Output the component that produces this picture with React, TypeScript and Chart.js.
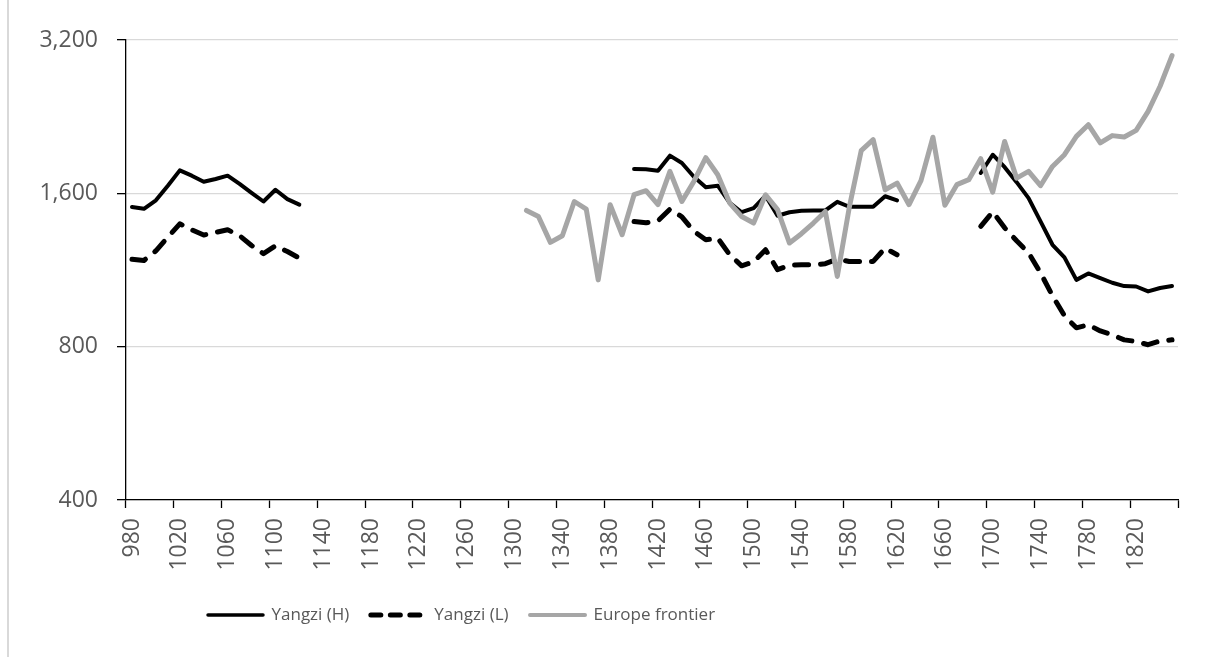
import { useEffect, useRef } from 'react';
import { Chart, registerables } from 'chart.js';

Chart.register(...registerables);

const N = null;

const years = [
  '980', '990', '1000', '1010', '1020', '1030', '1040', '1050', '1060', '1070',
  '1080', '1090', '1100', '1110', '1120', '1130', '1140', '1150', '1160', '1170',
  '1180', '1190', '1200', '1210', '1220', '1230', '1240', '1250', '1260', '1270',
  '1280', '1290', '1300', '1310', '1320', '1330', '1340', '1350', '1360', '1370',
  '1380', '1390', '1400', '1410', '1420', '1430', '1440', '1450', '1460', '1470',
  '1480', '1490', '1500', '1510', '1520', '1530', '1540', '1550', '1560', '1570',
  '1580', '1590', '1600', '1610', '1620', '1630', '1640', '1650', '1660', '1670',
  '1680', '1690', '1700', '1710', '1720', '1730', '1740', '1750', '1760', '1770',
  '1780', '1790', '1800', '1810', '1820', '1830', '1840', '1850',
];

const yangziHigh = [
  1504, 1492, 1550, 1656, 1775, 1733, 1686, 1707, 1733, 1670, 1604, 1542, 1626, 1559, 1520,
  N, N, N, N, N, N, N, N, N, N, N, N, N, N, N, N, N, N, N, N, N, N, N, N, N, N, N,
  1786, 1784, 1772, 1897, 1835, 1725, 1645, 1656, 1533, 1469, 1497, 1583, 1446, 1469, 1479,
  1481, 1481, 1540, 1506, 1506, 1506, 1579, 1550,
  N, N, N, N, N, N,
  1754, 1905, 1801, 1683, 1566, 1409, 1268, 1198, 1082, 1114, 1091, 1068, 1052, 1050, 1027,
  1043, 1052,
];

const yangziLow = [
  1188, 1181, 1234, 1313, 1394, 1357, 1325, 1341, 1357, 1321, 1264, 1218, 1262, 1230, 1194,
  N, N, N, N, N, N, N, N, N, N, N, N, N, N, N, N, N, N, N, N, N, N, N, N, N, N, N,
  1409, 1401, 1413, 1489, 1439, 1348, 1297, 1307, 1212, 1153, 1174, 1240, 1133, 1156, 1158,
  1158, 1164, 1188, 1176, 1176, 1176, 1249, 1212,
  N, N, N, N, N, N,
  1378, 1472, 1369, 1291, 1223, 1117, 1007, 920, 871, 883, 859, 844, 825, 819, 807,
  821, 825,
];

const europeFrontier = [
  N, N, N, N, N, N, N, N, N, N, N, N, N, N, N, N, N, N, N, N, N, N, N, N, N, N, N, N, N, N,
  N, N, N,
  1481, 1441, 1282, 1321, 1542, 1490, 1082, 1520, 1327,
  1590, 1619, 1520, 1767, 1542, 1688, 1880, 1740, 1531, 1441,
  1399, 1590, 1486, 1278, 1333, 1399, 1474, 1099, 1500, 1940,
  2039, 1626, 1676, 1520, 1694, 2062, 1516, 1664, 1702, 1871,
  1608, 2023, 1714, 1767, 1656, 1807, 1905, 2070, 2182, 2009,
  2077, 2064, 2127, 2318, 2596, 2982,
];

const yTicks = [400, 800, 1600, 3200];
const seriesNames = ['Yangzi (H)', 'Yangzi (L)', 'Europe frontier'];

const TEXT = '#595959';
const LEGEND_PAD = 21.5;
const LEGEND_LEFT = 208;
const LEGEND_FONT = 17;

const legendShift = {
  id: 'legendShift',
  afterLayout(chart: any) {
    if (chart.legend) {
      chart.legend.left = LEGEND_LEFT - LEGEND_PAD;
    }
  },
};

export default function App() {
  const ref = useRef<HTMLCanvasElement | null>(null);

  useEffect(() => {
    if (!ref.current) return;
    const legendWidths = [3.5, 5, 4];
    const legendDashes = [[], [10, 9.5], []];
    const chart = new Chart(ref.current, {
      type: 'line',
      data: {
        labels: years,
        datasets: [
          {
            label: seriesNames[0],
            data: yangziHigh,
            borderColor: '#000000',
            backgroundColor: '#000000',
            borderWidth: 4,
            pointRadius: 0,
            borderJoinStyle: 'round',
            borderCapStyle: 'round',
            spanGaps: false,
            tension: 0,
            order: 1,
          },
          {
            label: seriesNames[1],
            data: yangziLow,
            borderColor: '#000000',
            backgroundColor: '#000000',
            borderWidth: 5,
            borderDash: [14, 12],
            pointRadius: 0,
            borderJoinStyle: 'round',
            borderCapStyle: 'round',
            spanGaps: false,
            tension: 0,
            order: 2,
          },
          {
            label: seriesNames[2],
            data: europeFrontier,
            borderColor: '#a6a6a6',
            backgroundColor: '#a6a6a6',
            borderWidth: 5,
            pointRadius: 0,
            borderJoinStyle: 'round',
            borderCapStyle: 'round',
            spanGaps: false,
            tension: 0,
            order: 0,
          },
        ],
      },
      options: {
        responsive: false,
        animation: false,
        events: [],
        layout: { padding: { left: 0, top: 40, right: 34, bottom: 23.5 } },
        plugins: {
          tooltip: { enabled: false },
          legend: {
            display: true,
            position: 'bottom',
            align: 'start',
            labels: {
              usePointStyle: true,
              pointStyleWidth: 55,
              padding: LEGEND_PAD,
              color: TEXT,
              font: { family: '"Open Sans", sans-serif', size: LEGEND_FONT },
              generateLabels: (c: any) =>
                c.data.datasets.map((ds: any, i: number) => ({
                  text: ds.label,
                  fillStyle: ds.borderColor,
                  strokeStyle: ds.borderColor,
                  lineWidth: legendWidths[i],
                  lineDash: legendDashes[i],
                  lineCap: 'round',
                  pointStyle: 'line',
                  hidden: false,
                  datasetIndex: i,
                  fontColor: TEXT,
                })),
            },
          },
        },
        scales: {
          x: {
            type: 'category',
            offset: true,
            afterFit: (s: any) => {
              s.height = 85;
            },
            grid: {
              offset: true,
              drawOnChartArea: false,
              drawTicks: true,
              tickLength: 8,
              tickWidth: 1.3,
              color: 'rgba(0,0,0,0)',
              tickColor: (ctx: any) =>
                ctx.index === undefined || ctx.index % 4 === 0 ? '#000000' : 'rgba(0,0,0,0)',
            },
            border: { display: true, color: '#000000', width: 1.3 },
            ticks: {
              autoSkip: false,
              minRotation: 90,
              maxRotation: 90,
              padding: 10,
              color: TEXT,
              font: { family: '"Open Sans", sans-serif', size: 23 },
              callback: (_v: any, i: number) => (i % 4 === 0 ? years[i] : ''),
            },
          },
          y: {
            type: 'logarithmic',
            min: 400,
            max: 3200,
            afterBuildTicks: (s: any) => {
              s.ticks = yTicks.map((v) => ({ value: v }));
            },
            afterFit: (s: any) => {
              s.width = 126;
            },
            grid: {
              color: '#d9d9d9',
              lineWidth: 1.3,
              drawTicks: true,
              tickLength: 9,
              tickColor: '#000000',
              tickWidth: 1.3,
            },
            border: { display: true, color: '#000000', width: 1.3 },
            ticks: {
              padding: 19,
              color: TEXT,
              font: { family: '"Open Sans", sans-serif', size: 23 },
              callback: (v: any) => Number(v).toLocaleString('en-US'),
            },
          },
        },
      },
      plugins: [legendShift],
    } as any);
    return () => chart.destroy();
  }, []);

  return (
    <div style={{ position: 'fixed', left: 0, top: 0, width: 1212, height: 657, background: '#ffffff' }}>
      <div style={{ position: 'absolute', left: 7, top: 0, width: 2, height: 657, background: '#d9d9d9' }} />
      <canvas ref={ref} width={1212} height={657} style={{ position: 'absolute', left: 0, top: 0, width: 1212, height: 657 }} />
    </div>
  );
}
